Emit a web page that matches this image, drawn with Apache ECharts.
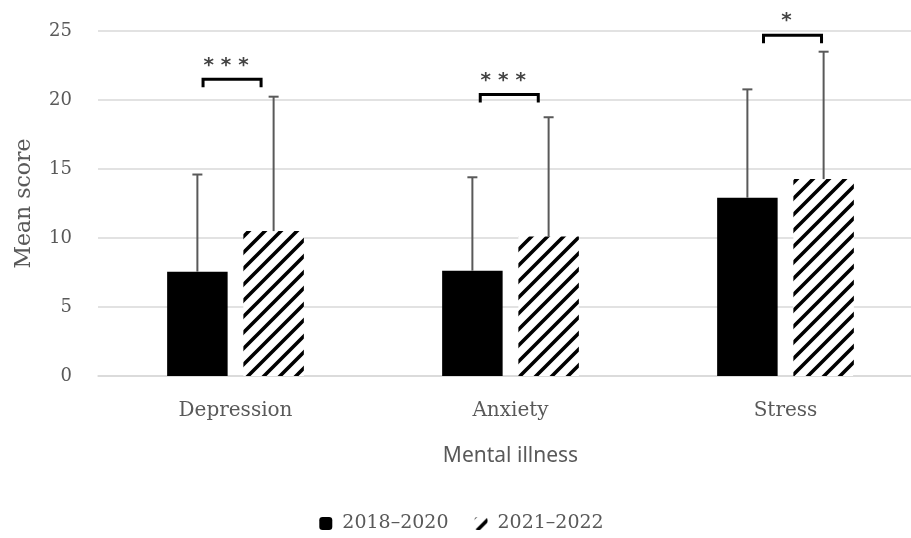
<!DOCTYPE html>
<html><head><meta charset="utf-8">
<script src="https://cdn.jsdelivr.net/npm/echarts@6/dist/echarts.min.js"></script>
<style>html,body{margin:0;padding:0;background:#fff;overflow:hidden}#c{width:923px;height:538px}</style>
</head><body><div id="c"></div>
<script>
// ---- data ----
const categories = ['Depression', 'Anxiety', 'Stress'];
const seriesNames = ['2018\u20132020', '2021\u20132022'];
const mean2018 = [7.56, 7.63, 12.92];
const mean2021 = [10.5, 10.1, 14.27];
const upper2018 = [14.6, 14.4, 20.77];   // mean + SD
const upper2021 = [20.24, 18.75, 23.5];
const bracketLevel = [21.5, 20.4, 24.7];
const bracketStars = ['***', '***', '*'];
const yTicks = [0, 5, 10, 15, 20, 25];

// ---- styles ----
const grey = '#595959';
const serif = 'DejaVu Serif';
const bracketShift = [-0.005, 0.003, 0.033];

function hatch() {
  const P = 16, c = document.createElement('canvas');
  c.width = P; c.height = P;
  const g = c.getContext('2d');
  g.fillStyle = '#fff'; g.fillRect(0, 0, P, P);
  g.strokeStyle = '#000'; g.lineWidth = 3.6;
  g.beginPath();
  g.moveTo(-4, P + 4); g.lineTo(P + 4, -4);
  g.moveTo(-4, 4); g.lineTo(4, -4);
  g.moveTo(P - 4, P + 4); g.lineTo(P + 4, P - 4);
  g.stroke();
  return { image: c, repeat: 'repeat' };
}
const hatchFill = hatch();

const BAR_W = 0.22, BAR_GAP = 0.26;

function errData(means, ups) { return means.map((m, i) => [i, m, ups[i]]); }
function errRender(sign) {
  return function (params, api) {
    const cw = api.size([1, 0])[0];
    const off = sign * cw * BAR_W * (1 + BAR_GAP) / 2;
    const p0 = api.coord([api.value(0), api.value(1)]);
    const p1 = api.coord([api.value(0), api.value(2)]);
    const x = p0[0] + off;
    const style = { stroke: grey, lineWidth: 2 };
    return {
      type: 'group',
      children: [
        { type: 'line', shape: { x1: x, y1: p0[1], x2: x, y2: p1[1] }, style },
        { type: 'line', shape: { x1: x - 5, y1: p1[1], x2: x + 5, y2: p1[1] }, style }
      ]
    };
  };
}

const chart = echarts.init(document.getElementById('c'));
chart.setOption({
  animation: false,
  backgroundColor: '#fff',
  grid: { left: 98, top: 31, bottom: 162, right: 0 },
  legend: {
    bottom: 0, left: 'center',
    itemWidth: 13, itemHeight: 13, itemGap: 26,
    textStyle: { fontFamily: serif, fontSize: 19, color: grey, padding: [0, 0, 0, 5] },
    data: seriesNames
  },
  xAxis: {
    type: 'category', data: categories,
    axisLine: { lineStyle: { color: '#d9d9d9', width: 1.5 } },
    axisTick: { show: false },
    axisLabel: { fontFamily: serif, fontSize: 20, color: grey, margin: 25 },
    name: 'Mental illness', nameLocation: 'middle', nameGap: 70,
    nameTextStyle: { fontFamily: 'Noto Sans', fontSize: 21, color: grey }
  },
  yAxis: {
    type: 'value', min: yTicks[0], max: yTicks[yTicks.length - 1], interval: 5,
    axisLine: { show: false }, axisTick: { show: false },
    splitLine: { lineStyle: { color: '#d9d9d9', width: 1.5 } },
    axisLabel: { fontFamily: serif, fontSize: 18, color: grey, margin: 26 },
    name: 'Mean score', nameLocation: 'middle', nameGap: 63,
    nameTextStyle: { fontFamily: serif, fontSize: 22, color: grey }
  },
  series: [
    { name: seriesNames[0], type: 'bar', data: mean2018, barWidth: '22%', barGap: '26%',
      itemStyle: { color: '#000' } },
    { name: seriesNames[1], type: 'bar', data: mean2021, barWidth: '22%', barGap: '26%',
      itemStyle: { color: hatchFill } },
    { type: 'custom', data: errData(mean2018, upper2018), renderItem: errRender(-1), z: 5, silent: true },
    { type: 'custom', data: errData(mean2021, upper2021), renderItem: errRender(1), z: 5, silent: true },
    { type: 'custom', z: 6, silent: true,
      data: bracketLevel.map((v, i) => [i, v]),
      renderItem: function (params, api) {
        const i = api.value(0);
        const cw = api.size([1, 0])[0];
        const p = api.coord([i, api.value(1)]);
        const cx = p[0] + bracketShift[i] * cw;
        const xl = cx - cw * 0.113, xr = cx + cw * 0.098, y = p[1];
        return {
          type: 'group',
          children: [
            { type: 'polyline', shape: { points: [[xl, y + 8], [xl, y], [xr, y], [xr, y + 8]] },
              style: { stroke: '#000', lineWidth: 3, fill: null } },
            { type: 'text', x: (xl + xr) / 2 - 6, y: y - 4,
              style: { text: bracketStars[i].split('').join(' '), fontFamily: 'DejaVu Sans', fontSize: 20,
                fontWeight: 'bold', fill: '#444', align: 'center', verticalAlign: 'bottom' } }
          ]
        };
      }
    }
  ]
});
</script>
</body></html>
